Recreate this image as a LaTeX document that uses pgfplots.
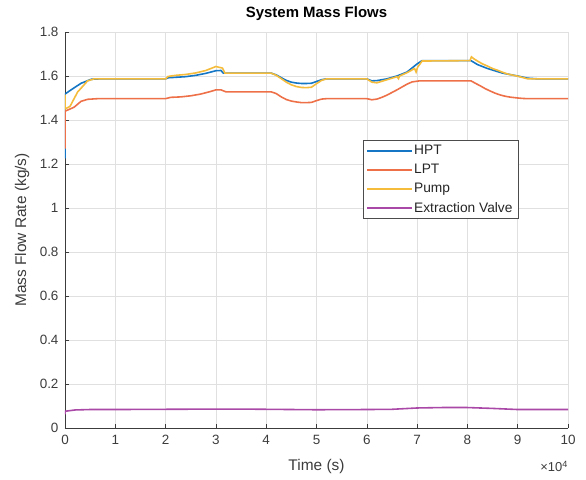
\documentclass[border=0pt]{standalone}
\usepackage{fontspec}
\setmainfont{Liberation Sans}
\usepackage{pgfplots}
\pgfplotsset{compat=1.18}

\definecolor{hpt}{RGB}{20,118,196}
\definecolor{lpt}{RGB}{238,112,72}
\definecolor{pump}{RGB}{244,188,58}
\definecolor{valve}{RGB}{170,72,168}
\definecolor{axgray}{RGB}{60,60,60}

\begin{document}
\begin{tikzpicture}
\useasboundingbox (-65bp,-52bp) rectangle (521bp,428bp);
\begin{axis}[
    scale only axis,
    width=503bp, height=396bp,
    xmin=0, xmax=100000, ymin=0, ymax=1.8,
    enlargelimits=false,
    axis x line*=bottom, axis y line*=left,
    axis line style={-, axgray, line width=0.6pt},
    tick align=inside,
    tick style={axgray, line width=0.5pt},
    major tick length=4bp,
    xtick={0,10000,...,100000},
    ytick={0,0.2,...,1.8},
    scaled x ticks=base 10:-4,
    scaled y ticks=false,
    xtick scale label code/.code={×10\textsuperscript{4}},
    every x tick scale label/.style={at={(rel axis cs:1,0)}, anchor=north east, yshift=-29bp, inner sep=0pt, font=\fontsize{13}{15}\selectfont, text=axgray},
    /pgf/number format/assume math mode=true,
    yticklabel style={/pgf/number format/fixed, xshift=-3bp},
    xticklabel style={yshift=-4bp},
    ticklabel style={font=\fontsize{13.5}{16}\selectfont, text=axgray},
    grid=major,
    major grid style={black!12, line width=0.5pt},
    title={\textbf{System Mass Flows}},
    title style={font=\fontsize{15}{18}\selectfont, at={(0.5,1)}, anchor=south, yshift=2bp},
    xlabel={Time (s)},
    ylabel={Mass Flow Rate (kg/s)},
    xlabel style={font=\fontsize{15.5}{18}\selectfont, text=axgray, at={(axis description cs:0.5,-0.098)}, anchor=center},
    ylabel style={font=\fontsize{15.5}{18}\selectfont, text=axgray, at={(axis description cs:-0.085,0.5)}, anchor=center},
    legend style={at={(0.592,0.727)}, anchor=north west, draw=black!70, line width=0.8pt,
        font=\fontsize{13.8}{15}\selectfont, inner xsep=4bp, inner ysep=3bp,
        row sep=4bp, cells={anchor=west}, text=black!85},
    legend image code/.code={\fill[#1, draw=none] (0bp,-1.15bp) rectangle (45bp,1.15bp);},
]
\addplot[hpt, line width=1.6pt] coordinates {
(0,1.225) (0,1.518) (1200,1.537) (3200,1.567) (5200,1.585) (7000,1.587)
(20000,1.587) (20500,1.592) (22000,1.594) (24000,1.597) (26000,1.603)
(28000,1.612) (30000,1.624) (31000,1.625) (31500,1.613) (32000,1.613)
(41000,1.613) (42000,1.605) (43000,1.592) (44000,1.580) (45000,1.572)
(46000,1.568) (47000,1.566) (48000,1.566) (49000,1.567) (50000,1.575)
(51000,1.583) (52000,1.587) (60000,1.587) (61000,1.578) (62000,1.579)
(64000,1.587) (66000,1.600) (68000,1.618) (70000,1.655) (71000,1.670)
(80700,1.670) (82000,1.652) (84000,1.634) (87000,1.613) (90000,1.600)
(92000,1.590) (94000,1.587) (100000,1.587)
};
\addlegendentry{HPT}
\addplot[lpt, line width=1.6pt] coordinates {
(0,1.27) (0,1.44) (1800,1.458) (3200,1.485) (4500,1.494) (6500,1.497)
(20000,1.497) (21000,1.503) (23000,1.505) (25000,1.510) (27000,1.518)
(29000,1.530) (30000,1.537) (31000,1.537) (32000,1.528) (41000,1.528)
(42000,1.520) (43000,1.505) (44000,1.493) (45000,1.486) (46000,1.482)
(47000,1.479) (48000,1.479) (49000,1.480) (50000,1.488) (51000,1.495)
(52000,1.497) (60000,1.497) (61000,1.492) (62000,1.495) (63000,1.503)
(64000,1.513) (65000,1.525) (66000,1.537) (67000,1.550) (68000,1.563)
(69000,1.573) (70500,1.578) (80700,1.578) (81500,1.568) (82500,1.556)
(83500,1.543) (84500,1.532) (85500,1.522) (86500,1.514) (87500,1.508)
(88500,1.504) (90000,1.500) (91000,1.498) (92000,1.497) (100000,1.497)
};
\addlegendentry{LPT}
\addplot[pump, line width=1.6pt] coordinates {
(0,1.515) (0,1.45) (1000,1.462) (2500,1.527) (4500,1.578) (5800,1.587)
(20000,1.587) (20500,1.598) (22000,1.603) (24000,1.607) (26000,1.614)
(28000,1.625) (30000,1.643) (31300,1.636) (31800,1.613) (41000,1.613)
(42000,1.603) (43000,1.588) (44000,1.572) (45000,1.560) (46000,1.552)
(47000,1.548) (48000,1.547) (49000,1.549) (50000,1.565) (51000,1.580)
(52000,1.587) (60000,1.587) (61000,1.572) (62000,1.569) (64000,1.583)
(66000,1.597) (66300,1.588) (66500,1.600) (68000,1.615) (69500,1.634)
(69800,1.618) (70100,1.640) (71000,1.668) (80500,1.670) (80800,1.687)
(81300,1.678) (82000,1.668) (83000,1.655) (84000,1.645) (85000,1.634)
(86000,1.626) (87000,1.617) (88000,1.609) (89000,1.604) (90000,1.599)
(91000,1.593) (92000,1.587) (100000,1.587)
};
\addlegendentry{Pump}
\addplot[valve, line width=1.6pt] coordinates {
(0,0.062) (0,0.076) (2000,0.082) (5000,0.084) (10000,0.084) (20000,0.085)
(30000,0.086) (35000,0.086) (40000,0.085) (50000,0.083) (60000,0.084)
(65000,0.085) (70000,0.091) (75000,0.093) (80000,0.093) (85000,0.089)
(90000,0.084) (100000,0.084)
};
\addlegendentry{Extraction Valve}
\end{axis}
\end{tikzpicture}
\end{document}
